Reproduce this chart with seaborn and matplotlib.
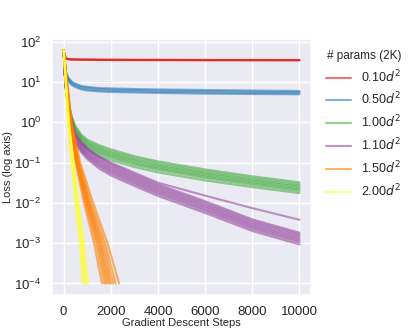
import matplotlib
matplotlib.use("Agg")
import matplotlib.pyplot as plt
import seaborn as sns
import pandas as pd

# sampled steps for the long runs
steps = [0, 50, 100, 200, 350, 500, 750, 1000, 1500, 2000, 3000, 4000, 6000, 8000, 10000]

red_runs = [
    [60, 44, 38, 36.5, 36, 35.8, 35.6, 35.5, 35.3, 35.2, 35.0, 34.9, 34.7, 34.6, 34.5],
    [60, 45, 39, 37, 36.4, 36.2, 36, 35.9, 35.7, 35.6, 35.4, 35.3, 35.1, 35.0, 34.9],
    [60, 43, 37.5, 36, 35.6, 35.4, 35.2, 35.1, 34.9, 34.8, 34.6, 34.5, 34.3, 34.2, 34.1],
]
blue_runs = [
    [60, 23, 14.5, 10.4, 8.3, 7.4, 6.5, 6.1, 5.8, 5.6, 5.45, 5.3, 5.1, 5.0, 4.9],
    [60, 24, 15.4, 11.0, 8.8, 7.9, 6.9, 6.5, 6.1, 6.0, 5.8, 5.65, 5.45, 5.3, 5.2],
    [60, 26, 16.6, 12.0, 9.6, 8.5, 7.5, 7.1, 6.7, 6.5, 6.3, 6.1, 5.9, 5.75, 5.6],
    [60, 27, 17.6, 12.6, 10.1, 9.0, 7.9, 7.5, 7.0, 6.9, 6.65, 6.5, 6.3, 6.1, 5.95],
]
green_runs = [
    [60, 15.3, 6.6, 2.5, 0.92, 0.50, 0.29, 0.21, 0.145, 0.114, 0.077, 0.057, 0.036, 0.0245, 0.0174],
    [60, 15.5, 6.8, 2.6, 0.99, 0.54, 0.32, 0.234, 0.163, 0.128, 0.087, 0.065, 0.041, 0.0276, 0.0195],
    [60, 15.6, 6.9, 2.7, 1.05, 0.58, 0.345, 0.254, 0.178, 0.141, 0.095, 0.071, 0.0446, 0.0302, 0.0214],
    [60, 15.7, 7.0, 2.78, 1.09, 0.61, 0.365, 0.271, 0.191, 0.151, 0.102, 0.076, 0.0478, 0.0324, 0.0229],
    [60, 15.9, 7.15, 2.87, 1.15, 0.65, 0.395, 0.294, 0.209, 0.165, 0.112, 0.083, 0.0524, 0.0355, 0.0251],
    [60, 16.0, 7.25, 2.94, 1.2, 0.69, 0.42, 0.313, 0.224, 0.177, 0.12, 0.089, 0.0562, 0.038, 0.0269],
    [60, 16.1, 7.4, 3.03, 1.27, 0.74, 0.45, 0.34, 0.246, 0.194, 0.132, 0.098, 0.0616, 0.0417, 0.0295],
    [60, 16.3, 7.5, 3.13, 1.34, 0.79, 0.49, 0.37, 0.27, 0.213, 0.144, 0.107, 0.0676, 0.0457, 0.0324],
]
purple_runs = [
    [60, 15.3, 5.9, 1.98, 0.72, 0.307, 0.179, 0.122, 0.0708, 0.0479, 0.0263, 0.0148, 0.0056, 0.0020, 0.00093],
    [60, 15.4, 6.0, 2.07, 0.78, 0.335, 0.197, 0.135, 0.0794, 0.0537, 0.0295, 0.0166, 0.0063, 0.00224, 0.00105],
    [60, 15.6, 6.15, 2.13, 0.82, 0.359, 0.213, 0.147, 0.0871, 0.0589, 0.0324, 0.0182, 0.0069, 0.00246, 0.00115],
    [60, 15.7, 6.25, 2.2, 0.867, 0.384, 0.231, 0.159, 0.0955, 0.0646, 0.0355, 0.020, 0.0076, 0.0027, 0.00126],
    [60, 15.9, 6.35, 2.28, 0.916, 0.412, 0.25, 0.173, 0.105, 0.0708, 0.039, 0.0219, 0.0083, 0.00295, 0.00138],
    [60, 16.0, 6.5, 2.35, 0.97, 0.441, 0.27, 0.188, 0.115, 0.0776, 0.0427, 0.024, 0.0091, 0.00324, 0.00152],
    [60, 16.2, 6.6, 2.43, 1.02, 0.473, 0.292, 0.204, 0.126, 0.0851, 0.0468, 0.0263, 0.0100, 0.00355, 0.00166],
    [60, 16.3, 6.75, 2.5, 1.08, 0.506, 0.315, 0.222, 0.138, 0.0933, 0.0513, 0.0288, 0.011, 0.0039, 0.00182],
    [60, 15.8, 6.6, 2.51, 1.0, 0.50, 0.316, 0.224, 0.141, 0.100, 0.0562, 0.0316, 0.0151, 0.0074, 0.0038],
]

# fast runs stop at 1e-4: step at which each loss level is reached
fast_levels = [60, 10, 1, 0.1, 0.01, 0.001, 0.0001]
orange_steps = [
    [0, 120, 280, 510, 860, 1290, 1620],
    [0, 125, 290, 530, 920, 1380, 1720],
    [0, 125, 295, 550, 960, 1440, 1800],
    [0, 130, 300, 565, 1000, 1500, 1870],
    [0, 130, 305, 580, 1030, 1550, 1940],
    [0, 135, 315, 600, 1070, 1610, 2010],
    [0, 135, 320, 620, 1110, 1680, 2100],
    [0, 140, 330, 650, 1170, 1760, 2200],
    [0, 145, 340, 700, 1250, 1860, 2350],
]
yellow_steps = [
    [0, 80, 190, 330, 500, 690, 800],
    [0, 85, 200, 350, 530, 730, 860],
    [0, 90, 210, 370, 560, 770, 920],
    [0, 95, 220, 390, 600, 820, 980],
    [0, 100, 230, 410, 630, 860, 1040],
]

labels = ["0.10$d^2$", "0.50$d^2$", "1.00$d^2$", "1.10$d^2$", "1.50$d^2$", "2.00$d^2$"]

rows = []
for lab, runs in zip(labels[:4], [red_runs, blue_runs, green_runs, purple_runs]):
    for i, run in enumerate(runs):
        for s, v in zip(steps, run):
            rows.append((lab, lab + str(i), s, v))
for lab, runs in zip(labels[4:], [orange_steps, yellow_steps]):
    for i, run in enumerate(runs):
        for s, v in zip(run, fast_levels):
            rows.append((lab, lab + str(i), s, v))
df = pd.DataFrame(rows, columns=["params", "run", "step", "loss"])

sns.set_theme(style="darkgrid")
plt.rcParams["font.family"] = ["Liberation Sans", "DejaVu Sans"]

fig, ax = plt.subplots(figsize=(4.15, 3.32), dpi=100)
fig.subplots_adjust(left=0.125, right=0.75, bottom=0.111, top=0.883)

sns.lineplot(data=df, x="step", y="loss", hue="params", units="run", estimator=None,
             palette="Set1", hue_order=labels, alpha=0.6, linewidth=1.5, sort=False, ax=ax)
ax.set_yscale("log")
ax.set_xlabel("Gradient Descent Steps", fontsize=8, labelpad=0)
ax.set_ylabel("Loss (log axis)", fontsize=8, labelpad=1)
ax.tick_params(labelsize=9.5, pad=1.5)
ax.set_xticks([0, 2000, 4000, 6000, 8000, 10000])

leg = ax.legend(title="# params (2K)", loc="upper left", bbox_to_anchor=(1.015, 1.0),
                frameon=False, fontsize=9, title_fontsize=8.5, handlelength=2.0)
for h in leg.get_lines():
    h.set_linewidth(1.5)
    h.set_alpha(0.6)

fig.savefig("out.png", dpi=100)
